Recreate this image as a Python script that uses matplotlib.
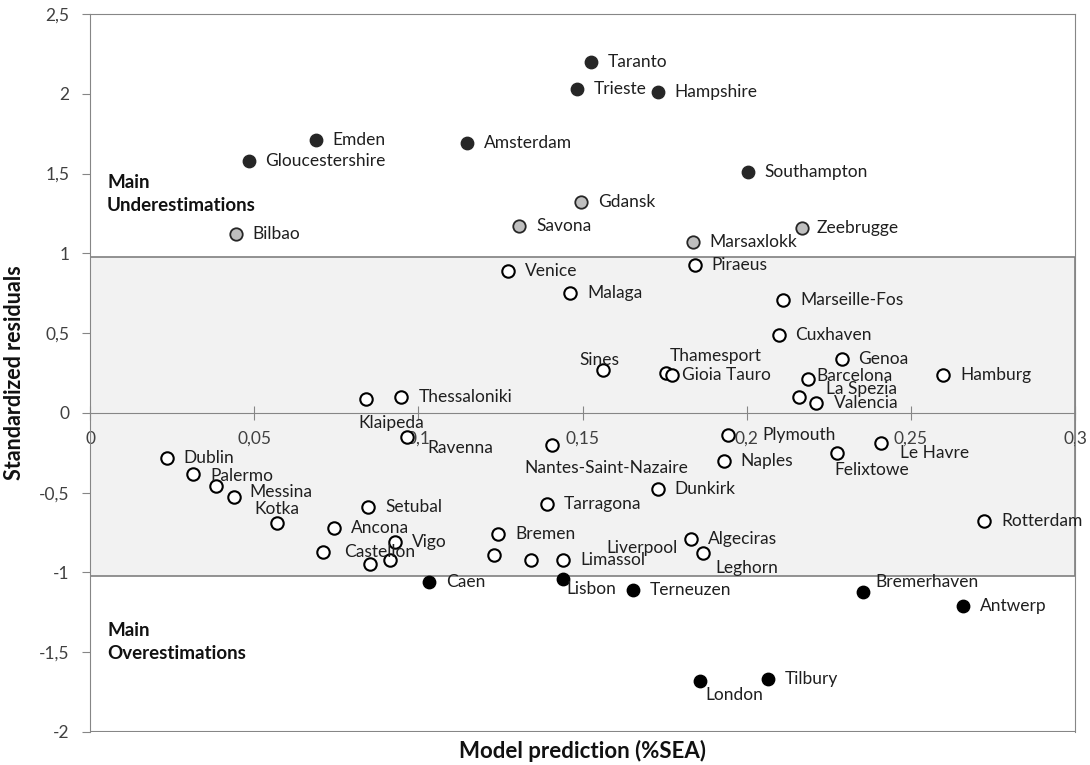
import matplotlib
matplotlib.use("Agg")
from matplotlib import pyplot as plt
from matplotlib.patches import Rectangle
from matplotlib.ticker import FuncFormatter

plt.rcParams['font.family'] = ['Lato', 'DejaVu Sans']

# ports with main underestimations (dark dots)
under_names = ['Taranto', 'Trieste', 'Hampshire', 'Emden', 'Gloucestershire', 'Amsterdam', 'Southampton']
under_x = [0.1526, 0.1483, 0.1729, 0.0687, 0.0483, 0.1149, 0.2003]
under_y = [2.20, 2.03, 2.01, 1.71, 1.58, 1.69, 1.51]

# grey dots, just above the band
grey_names = ['Bilbao', 'Gdansk', 'Savona', 'Marsaxlokk', 'Zeebrugge']
grey_x = [0.0444, 0.1495, 0.1307, 0.1836, 0.2170]
grey_y = [1.12, 1.32, 1.17, 1.07, 1.16]

# open circles inside the band
mid_names = ['Venice', 'Piraeus', 'Malaga', 'Marseille-Fos', 'Cuxhaven', 'Genoa', 'Barcelona',
             'Hamburg', 'La Spezia', 'Valencia', 'Sines', 'Thamesport', 'Gioia Tauro', 'Klaipeda',
             'Thessaloniki', 'Ravenna', 'Nantes-Saint-Nazaire', 'Plymouth', 'Naples', 'Felixtowe',
             'Le Havre', 'Rotterdam', 'Dunkirk', 'Tarragona', 'Bremen', 'Algeciras', 'Leghorn',
             'Liverpool', '', 'Limassol', 'Vigo', 'Castellon', '', '', 'Setubal', 'Ancona',
             'Kotka', 'Messina', '', 'Palermo', 'Dublin']
mid_x = [0.1274, 0.1842, 0.1462, 0.2112, 0.2097, 0.2289, 0.2188,
         0.2599, 0.2158, 0.2210, 0.1562, 0.1754, 0.1772, 0.0842,
         0.0948, 0.0964, 0.1407, 0.1942, 0.1930, 0.2274,
         0.2410, 0.2723, 0.1729, 0.1392, 0.1243, 0.1830, 0.1866,
         0.1343, 0.1231, 0.1441, 0.0930, 0.0711, 0.0854, 0.0915, 0.0848, 0.0742,
         0.0571, 0.0438, 0.0383, 0.0313, 0.0234]
mid_y = [0.89, 0.93, 0.75, 0.71, 0.49, 0.34, 0.21,
         0.24, 0.10, 0.06, 0.27, 0.25, 0.24, 0.09,
         0.10, -0.15, -0.20, -0.14, -0.30, -0.25,
         -0.19, -0.68, -0.48, -0.57, -0.76, -0.79, -0.875,
         -0.92, -0.89, -0.92, -0.81, -0.87, -0.95, -0.925, -0.59, -0.72,
         -0.69, -0.53, -0.46, -0.38, -0.28]

# ports with main overestimations (black dots)
over_names = ['Caen', 'Lisbon', 'Terneuzen', 'Bremerhaven', 'Antwerp', 'London', 'Tilbury']
over_x = [0.1033, 0.1441, 0.1653, 0.2353, 0.2660, 0.1857, 0.2064]
over_y = [-1.06, -1.04, -1.11, -1.12, -1.21, -1.68, -1.67]

x_ticks = [0, 0.05, 0.1, 0.15, 0.2, 0.25, 0.3]
y_ticks = [-2, -1.5, -1, -0.5, 0, 0.5, 1, 1.5, 2, 2.5]

# label placement (pixels from the dot, ha); default is to the right
default_off = ((17, 0), 'left')
label_off = {
    'Thamesport': ((4, 17), 'left'),
    'Gioia Tauro': ((10, 0), 'left'),
    'Klaipeda': ((-8, -24), 'left'),
    'Ravenna': ((21, -11), 'left'),
    'Nantes-Saint-Nazaire': ((-28, -23), 'left'),
    'Plymouth': ((35, 0), 'left'),
    'Felixtowe': ((-2, -17), 'left'),
    'Le Havre': ((19, -10), 'left'),
    'Barcelona': ((8, 3), 'left'),
    'La Spezia': ((27, 8), 'left'),
    'Valencia': ((18, 0), 'left'),
    'Kotka': ((-23, 14), 'left'),
    'Messina': ((16, 5), 'left'),
    'Palermo': ((18, -2), 'left'),
    'Castellon': ((21, 0), 'left'),
    'Liverpool': ((75, 12), 'left'),
    'Sines': ((-3, 10), 'center'),
    'Lisbon': ((3, -10), 'left'),
    'Bremerhaven': ((13, 10), 'left'),
    'London': ((6, -14), 'left'),
    'Leghorn': ((13, -16), 'left'),
    'Zeebrugge': ((14, 0), 'left'),
}

fig = plt.figure(figsize=(10.9, 7.65), dpi=100)
ax = fig.add_axes([90/1090, 1-732/765, (1075-90)/1090, (732-14)/765])
ax.set_xlim(0, 0.3)
ax.set_ylim(-2, 2.5)

# grey band for "acceptable" residuals
ax.add_patch(Rectangle((0, -1.02), 0.3, 2.0, facecolor='#f2f2f2', edgecolor='#7f7f7f',
                       lw=1.2, zorder=0))

ax.scatter(under_x, under_y, s=80, color='#262626', zorder=3)
ax.scatter(grey_x, grey_y, s=80, facecolor='#bfbfbf', edgecolor='#262626', lw=1.3, zorder=3)
ax.scatter(mid_x, mid_y, s=80, facecolor='white', edgecolor='black', lw=1.5, zorder=3)
ax.scatter(over_x, over_y, s=80, color='black', zorder=3)

for names, xs, ys in [(under_names, under_x, under_y), (grey_names, grey_x, grey_y),
                      (mid_names, mid_x, mid_y), (over_names, over_x, over_y)]:
    for n, x, y in zip(names, xs, ys):
        if n == '':
            continue
        off, ha = label_off.get(n, default_off)
        ax.annotate(n, (x, y), xytext=off, textcoords='offset pixels', ha=ha, va='center',
                    fontsize=12.5, color='#1f1f1f', zorder=4)

ax.text(0.0052, 1.5, 'Main\nUnderestimations', fontsize=13.5, fontweight='bold',
        color='#111111', va='top', linespacing=1.45)
ax.text(0.0052, -1.31, 'Main\nOverestimations', fontsize=13.5, fontweight='bold',
        color='#111111', va='top', linespacing=1.45)

# frame: x axis at zero, thin grey box around
for s in ['top', 'right', 'left']:
    ax.spines[s].set_color('#868686')
ax.spines['bottom'].set_position(('data', 0))
ax.spines['bottom'].set_color('#868686')
ax.axhline(-2, color='#868686', lw=1.5, zorder=1)

fmt = FuncFormatter(lambda v, p: ('%g' % v).replace('.', ','))
ax.set_xticks(x_ticks)
ax.set_yticks(y_ticks)
ax.xaxis.set_major_formatter(fmt)
ax.yaxis.set_major_formatter(fmt)
ax.tick_params(axis='x', direction='inout', length=10, color='#868686', labelsize=12.5,
               labelcolor='#404040', pad=8)
ax.tick_params(axis='y', direction='out', length=6, color='#868686', labelsize=12.5,
               labelcolor='#404040', pad=9)

ax.set_ylabel('Standardized residuals', fontsize=15.5, fontweight='bold', color='#111111', labelpad=10)
fig.text((90+1075)/2/1090, 1-751/765, 'Model prediction (%SEA)', fontsize=16, fontweight='bold',
         color='#111111', ha='center', va='center')

fig.savefig('out.png', dpi=100)
